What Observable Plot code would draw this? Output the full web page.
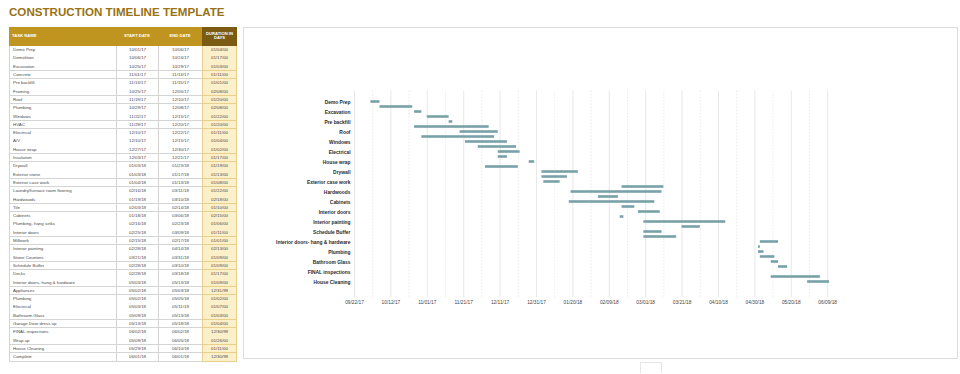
<!DOCTYPE html>
<html>
<head>
<meta charset="utf-8">
<script src="https://cdn.jsdelivr.net/npm/d3@7"></script>
<script src="https://cdn.jsdelivr.net/npm/@observablehq/plot@0.6"></script>
<style>
  html, body { margin: 0; padding: 0; background: #fff; }
  body { width: 960px; height: 374px; position: relative; overflow: hidden; font-family: "Liberation Sans", Arial, sans-serif; }
  #title { position: absolute; left: 9px; top: 5px; font-size: 11.6px; font-weight: bold; color: #987216; white-space: nowrap; }
  .cell { position: absolute; box-sizing: border-box; font-size: 4.4px; color: #444; white-space: nowrap; overflow: hidden; display: flex; align-items: center; }
  .hdr { color: #fff; font-weight: bold; font-size: 4.2px; }
  #panel { position: absolute; left: 243px; top: 27px; width: 715px; height: 332px; box-sizing: border-box; border: 1px solid #dcdcdc; }
  #chart { position: absolute; left: 243px; top: 27px; }
  #tab { position: absolute; left: 640px; top: 362px; width: 22px; height: 11px; box-sizing: border-box; border: 1px solid #e6e6e6; border-bottom: none; }
</style>
</head>
<body>
<div id="title">CONSTRUCTION TIMELINE TEMPLATE</div>
<div id="table"></div>
<div id="panel"></div>
<div id="chart"></div>
<div id="tab"></div>
<script>
const headers = ["TASK NAME", "START DATE", "END DATE", "DURATION IN DAYS"];
const tasks = ["Demo Prep","Demolition","Excavation","Concrete","Pre backfill","Framing","Roof","Plumbing","Windows","HVAC",
  "Electrical","A/V","House wrap","Insulation","Drywall","Exterior stone","Exterior case work","Laundry/furnace room flooring","Hardwoods","Tile",
  "Cabinets","Plumbing- hang sinks","Interior doors","Millwork","Interior painting","Stone Counters","Schedule Buffer","Decks","Interior doors- hang & hardware","Appliances",
  "Plumbing","Electrical","Bathroom Glass","Garage Door dress up","FINAL inspections","Wrap up","House Cleaning","Complete"];
const startDates = ["10/01/17","10/06/17","10/25/17","11/01/17","11/13/17","10/25/17","11/19/17","10/29/17","11/22/17","11/29/17",
  "12/10/17","12/10/17","12/27/17","12/03/17","01/03/18","01/03/18","01/04/18","02/16/18","01/19/18","02/03/18",
  "01/18/18","02/16/18","02/25/18","02/15/18","02/28/18","03/21/18","02/28/18","02/28/18","05/03/18","05/02/18",
  "05/02/18","05/03/18","05/09/18","05/13/18","06/02/18","05/09/18","05/29/18","06/01/18"];
const endDates = ["10/06/17","10/24/17","10/29/17","11/13/17","11/15/17","12/05/17","12/10/17","12/08/17","12/15/17","12/20/17",
  "12/22/17","12/15/17","12/30/17","12/21/17","01/23/18","01/17/18","01/13/18","03/11/18","03/10/18","02/14/18",
  "03/06/18","02/23/18","03/09/18","02/17/18","04/14/18","03/31/18","03/10/18","03/18/18","05/13/18","05/03/18",
  "05/05/18","05/11/18","05/13/18","05/18/18","06/02/18","06/05/18","06/10/18","06/01/18"];
const durations = ["01/04/00","01/17/00","01/03/00","01/11/00","01/01/00","02/08/00","01/20/00","02/08/00","01/22/00","01/20/00",
  "01/11/00","01/04/00","01/02/00","01/17/00","01/19/00","01/13/00","01/08/00","01/22/00","02/18/00","01/10/00",
  "02/15/00","01/06/00","01/11/00","01/01/00","02/13/00","01/09/00","01/09/00","01/17/00","01/09/00","12/31/99",
  "01/02/00","01/07/00","01/03/00","01/04/00","12/30/99","01/26/00","01/11/00","12/30/99"];
const tickLabels = ["09/22/17","10/12/17","11/01/17","11/21/17","12/11/17","12/31/17","01/20/18","02/09/18","03/01/18","03/21/18","04/10/18","04/30/18","05/20/18","06/09/18"];
const axisEnd = "06/10/18";

// ---------- table (HTML) ----------
const table = document.getElementById("table");
const colX = [9, 116, 158, 202, 237];
const headTop = 27, headH = 18.8, rowH = 8.3;
function addCell(x0, x1, y0, h, text, cls, style) {
  const d = document.createElement("div");
  d.className = "cell " + (cls || "");
  Object.assign(d.style, {left: x0 + "px", top: y0 + "px", width: (x1 - x0) + "px", height: h + "px"}, style || {});
  d.textContent = text;
  table.appendChild(d);
  return d;
}
headers.forEach((h, c) => {
  addCell(colX[c], colX[c + 1], headTop, headH, h, "hdr", {
    background: c === 3 ? "#7b5a14" : "#c0951f",
    justifyContent: c === 0 ? "flex-start" : "center",
    textAlign: "center", whiteSpace: c === 3 ? "normal" : "nowrap",
    lineHeight: "4.6px", padding: c === 3 ? "0 3px" : (c === 0 ? "0 0 0 3px" : "0")
  });
});
tasks.forEach((t, i) => {
  const y = headTop + headH + i * rowH;
  const vals = [t, startDates[i], endDates[i], durations[i]];
  vals.forEach((v, c) => {
    addCell(colX[c], colX[c + 1], y, rowH + 0.5, v, "", {
      justifyContent: c === 0 ? "flex-start" : "center",
      paddingLeft: c === 0 ? "3px" : "0",
      borderBottom: c === 3 ? "0.6px solid #e9cf8c" : "0.6px solid #d4d4d4",
      borderLeft: c === 3 ? "0.6px solid #e9cf8c" : "0.6px solid #d4d4d4",
      borderRight: c === 3 ? "0.6px solid #e9cf8c" : "none",
      background: c === 3 ? "#fcf0cb" : "#fff",
      color: "#4a4a4a"
    });
  });
});

// ---------- chart (Observable Plot) ----------
const parse = d3.utcParse("%m/%d/%y");
const fmt = d3.utcFormat("%m/%d/%y");
const rows = tasks.map((t, i) => ({i, task: t, start: parse(startDates[i]), end: parse(endDates[i])}));
const majorTicks = tickLabels.map(parse);
const minorTicks = majorTicks.slice(0, -1).map((d, k) => new Date((+d + +majorTicks[k + 1]) / 2));
const labelRows = d3.range(0, tasks.length, 2);

const chart = Plot.plot({
  width: 715,
  height: 332,
  marginLeft: 111,
  marginRight: 129,
  marginTop: 63.6,
  marginBottom: 61.7,
  style: {background: "transparent", fontFamily: "Liberation Sans, Arial, sans-serif", overflow: "visible"},
  x: {type: "utc", domain: [majorTicks[0], parse(axisEnd)]},
  y: {type: "band", domain: d3.range(tasks.length), paddingInner: 0, paddingOuter: 0},
  marks: [
    Plot.ruleX(minorTicks, {stroke: "#e2e2e2", strokeWidth: 0.7, strokeDasharray: "1.6,1.6"}),
    Plot.ruleX(majorTicks, {stroke: "#dcdcdc", strokeWidth: 0.7}),
    Plot.barX(rows, {x1: "start", x2: "end", y: "i", fill: "#78a2a8", insetTop: 1.2, insetBottom: 1.2}),
    Plot.axisY({ticks: labelRows, tickFormat: i => tasks[i], tickSize: 0, tickPadding: 4, fontSize: 4.9, fontWeight: "bold", fill: "#2a2a2a", label: null}),
    Plot.axisX({ticks: majorTicks, tickFormat: fmt, tickSize: 0, tickPadding: 2.6, fontSize: 4.8, fill: "#444", label: null})
  ]
});
document.getElementById("chart").appendChild(chart);
</script>
</body>
</html>
